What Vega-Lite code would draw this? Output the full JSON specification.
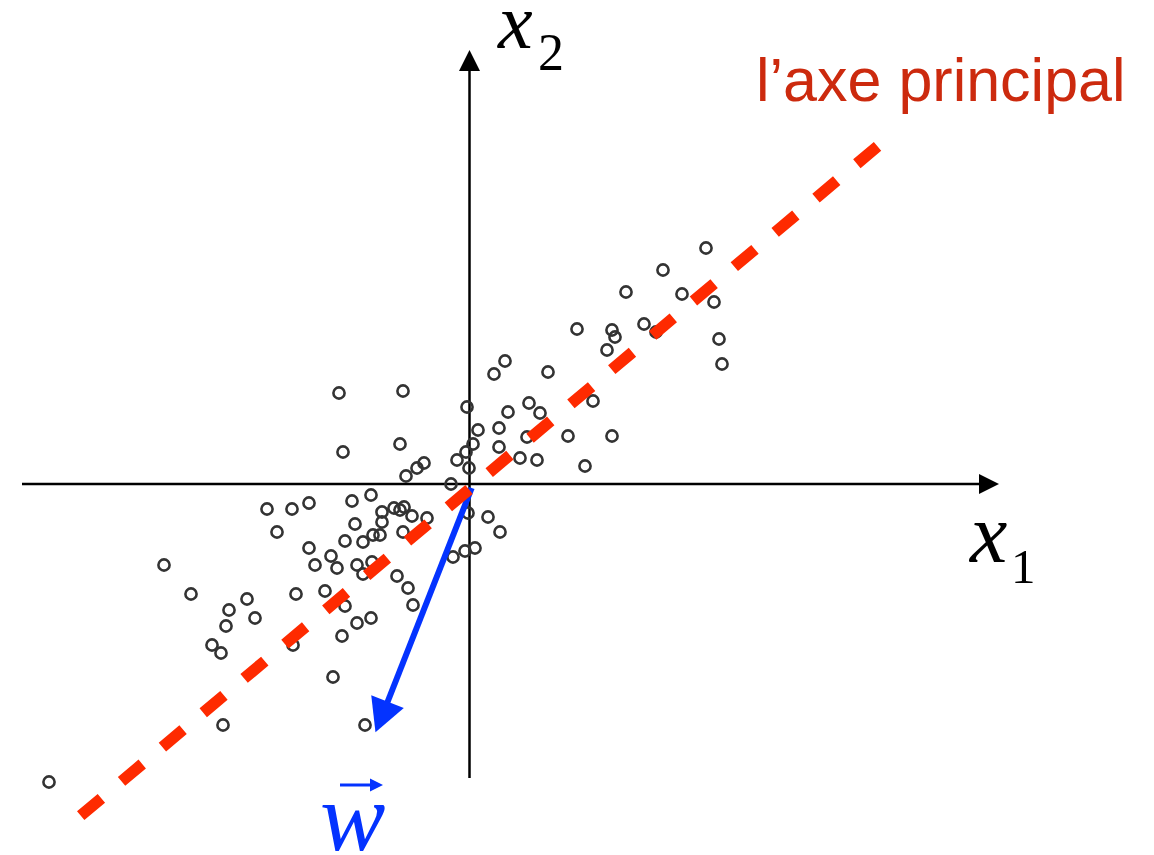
{
  "$schema": "https://vega.github.io/schema/vega-lite/v6.json",
  "width": 1154,
  "height": 855,
  "autosize": "none",
  "padding": 0,
  "background": "white",
  "config": {"view": {"stroke": null}},
  "encoding": {
    "x": {"field": "x", "type": "quantitative", "scale": {"domain": [-4.695, 6.845], "nice": false, "zero": false}, "axis": null},
    "y": {"field": "y", "type": "quantitative", "scale": {"domain": [-3.71, 4.84], "nice": false, "zero": false}, "axis": null}
  },
  "layer": [
    {
      "data": {"values": [
        {"x": -4.475, "y": 0, "x2": 5.105, "y2": 0},
        {"x": 0, "y": 4.13, "x2": 0, "y2": -2.94}
      ]},
      "mark": {"type": "rule", "color": "#000000", "strokeWidth": 2.5},
      "encoding": {"x2": {"field": "x2"}, "y2": {"field": "y2"}}
    },
    {
      "data": {"values": [{"x": 5.195, "y": 0}]},
      "mark": {"type": "point", "shape": "M-1,-1L1,0L-1,1Z", "size": 400, "filled": true, "color": "#000000", "opacity": 1, "strokeWidth": 0},
      "encoding": {}
    },
    {
      "data": {"values": [{"x": 0, "y": 4.235}]},
      "mark": {"type": "point", "shape": "M0,-1L1,1L-1,1Z", "size": 441, "filled": true, "color": "#000000", "opacity": 1, "strokeWidth": 0},
      "encoding": {}
    },
    {
      "data": {"values": [
        {"x": 2.365, "y": 2.36}, {"x": 1.935, "y": 2.14}, {"x": 1.565, "y": 1.92}, {"x": 2.125, "y": 1.9},
        {"x": 2.445, "y": 1.82}, {"x": 1.075, "y": 1.55}, {"x": 1.425, "y": 1.54}, {"x": 1.455, "y": 1.47},
        {"x": 1.745, "y": 1.6}, {"x": 1.865, "y": 1.52}, {"x": 1.375, "y": 1.34}, {"x": 2.495, "y": 1.45},
        {"x": 2.525, "y": 1.2}, {"x": 0.355, "y": 1.23}, {"x": 0.245, "y": 1.1}, {"x": 0.785, "y": 1.12},
        {"x": -1.305, "y": 0.91}, {"x": -0.665, "y": 0.93}, {"x": -0.025, "y": 0.77}, {"x": 0.385, "y": 0.72},
        {"x": 0.595, "y": 0.81}, {"x": 0.705, "y": 0.71}, {"x": 1.235, "y": 0.83}, {"x": -1.265, "y": 0.32},
        {"x": -0.695, "y": 0.4}, {"x": 0.085, "y": 0.54}, {"x": 0.295, "y": 0.56}, {"x": 0.035, "y": 0.4},
        {"x": -0.035, "y": 0.32}, {"x": 0.295, "y": 0.37}, {"x": 0.575, "y": 0.47}, {"x": 0.985, "y": 0.48},
        {"x": 1.425, "y": 0.48}, {"x": -0.125, "y": 0.24}, {"x": -0.005, "y": 0.16}, {"x": 0.505, "y": 0.26},
        {"x": 0.675, "y": 0.24}, {"x": 1.155, "y": 0.18}, {"x": -0.455, "y": 0.21}, {"x": -0.525, "y": 0.16},
        {"x": -0.635, "y": 0.08}, {"x": -0.185, "y": 0.0}, {"x": -1.175, "y": -0.17}, {"x": -0.985, "y": -0.11},
        {"x": -2.025, "y": -0.25}, {"x": -1.775, "y": -0.25}, {"x": -1.605, "y": -0.19}, {"x": -0.875, "y": -0.28},
        {"x": -0.755, "y": -0.24}, {"x": -0.695, "y": -0.26}, {"x": -0.655, "y": -0.23}, {"x": -0.575, "y": -0.32},
        {"x": -0.425, "y": -0.34}, {"x": -1.145, "y": -0.4}, {"x": -0.875, "y": -0.38}, {"x": -1.925, "y": -0.48},
        {"x": -1.245, "y": -0.57}, {"x": -1.065, "y": -0.58}, {"x": -0.965, "y": -0.51}, {"x": -0.895, "y": -0.51},
        {"x": -0.665, "y": -0.48}, {"x": -0.015, "y": -0.29}, {"x": 0.185, "y": -0.33}, {"x": 0.305, "y": -0.48},
        {"x": -1.605, "y": -0.64}, {"x": -1.385, "y": -0.72}, {"x": -1.545, "y": -0.81}, {"x": -1.325, "y": -0.84},
        {"x": -1.125, "y": -0.81}, {"x": -1.065, "y": -0.9}, {"x": -0.975, "y": -0.78}, {"x": -0.165, "y": -0.73},
        {"x": -0.045, "y": -0.67}, {"x": 0.055, "y": -0.64}, {"x": -0.725, "y": -0.92}, {"x": -0.615, "y": -1.04},
        {"x": -0.565, "y": -1.21}, {"x": -2.225, "y": -1.15}, {"x": -2.145, "y": -1.34}, {"x": -1.735, "y": -1.1},
        {"x": -1.445, "y": -1.07}, {"x": -1.245, "y": -1.22}, {"x": -1.125, "y": -1.39}, {"x": -0.985, "y": -1.34},
        {"x": -1.275, "y": -1.52}, {"x": -3.055, "y": -0.81}, {"x": -2.785, "y": -1.1}, {"x": -2.405, "y": -1.26},
        {"x": -2.435, "y": -1.42}, {"x": -2.575, "y": -1.61}, {"x": -2.485, "y": -1.69}, {"x": -1.765, "y": -1.61},
        {"x": -1.365, "y": -1.93}, {"x": -2.465, "y": -2.41}, {"x": -1.045, "y": -2.41}, {"x": -4.205, "y": -2.98}
      ]},
      "mark": {"type": "point", "shape": "circle", "size": 125, "filled": false, "stroke": "#333333", "strokeWidth": 2.6, "opacity": 1}
    },
    {
      "data": {"values": [{"x": 0.022, "y": -0.04, "x2": -0.855, "y2": -2.27}]},
      "mark": {"type": "rule", "color": "#0433ff", "strokeWidth": 6},
      "encoding": {"x2": {"field": "x2"}, "y2": {"field": "y2"}}
    },
    {
      "data": {"values": [{"x": -0.88, "y": -2.329}]},
      "mark": {"type": "point", "shape": "M0,-0.94L1,0.94L-1,0.94Z", "size": 1225, "angle": 201.5, "filled": true, "color": "#0433ff", "opacity": 1, "strokeWidth": 0},
      "encoding": {}
    },
    {
      "data": {"values": [{"x": -3.888, "y": -3.317}, {"x": 4.081, "y": 3.377}]},
      "mark": {"type": "line", "color": "#fe2a00", "strokeWidth": 11.5, "strokeDash": [27, 26.35], "strokeCap": "butt"},
      "encoding": {}
    },
    {
      "data": {"values": [{"x": -1.295, "y": -3.01, "x2": -0.975, "y2": -3.01}]},
      "mark": {"type": "rule", "color": "#0433ff", "strokeWidth": 3},
      "encoding": {"x2": {"field": "x2"}, "y2": {"field": "y2"}}
    },
    {
      "data": {"values": [{"x": -0.93, "y": -3.01}]},
      "mark": {"type": "point", "shape": "M-1,-1L1,0L-1,1Z", "size": 169, "filled": true, "color": "#0433ff", "opacity": 1, "strokeWidth": 0},
      "encoding": {}
    },
    {
      "data": {"values": [{"x": 2.865, "y": 3.83, "label": "l’axe principal"}]},
      "mark": {"type": "text", "font": "Liberation Sans", "fontSize": 61, "color": "#cc2a0e", "align": "left", "baseline": "alphabetic"},
      "encoding": {"text": {"field": "label"}}
    },
    {
      "data": {"values": [{"x": 0.285, "y": 4.36, "label": "x"}]},
      "mark": {"type": "text", "font": "Liberation Serif", "fontStyle": "italic", "fontSize": 78, "color": "#000000", "align": "left", "baseline": "alphabetic"},
      "encoding": {"text": {"field": "label"}}
    },
    {
      "data": {"values": [{"x": 0.685, "y": 4.14, "label": "2"}]},
      "mark": {"type": "text", "font": "Liberation Serif", "fontSize": 52, "color": "#000000", "align": "left", "baseline": "alphabetic"},
      "encoding": {"text": {"field": "label"}}
    },
    {
      "data": {"values": [{"x": 5.005, "y": -0.78, "label": "x"}]},
      "mark": {"type": "text", "font": "Liberation Serif", "fontStyle": "italic", "fontSize": 84, "color": "#000000", "align": "left", "baseline": "alphabetic"},
      "encoding": {"text": {"field": "label"}}
    },
    {
      "data": {"values": [{"x": 5.415, "y": -0.99, "label": "1"}]},
      "mark": {"type": "text", "font": "Liberation Serif", "fontSize": 49, "color": "#000000", "align": "left", "baseline": "alphabetic"},
      "encoding": {"text": {"field": "label"}}
    },
    {
      "data": {"values": [{"x": -1.495, "y": -3.66, "label": "w"}]},
      "mark": {"type": "text", "font": "Liberation Serif", "fontStyle": "italic", "fontSize": 98, "color": "#0433ff", "align": "left", "baseline": "alphabetic"},
      "encoding": {"text": {"field": "label"}}
    }
  ]
}
